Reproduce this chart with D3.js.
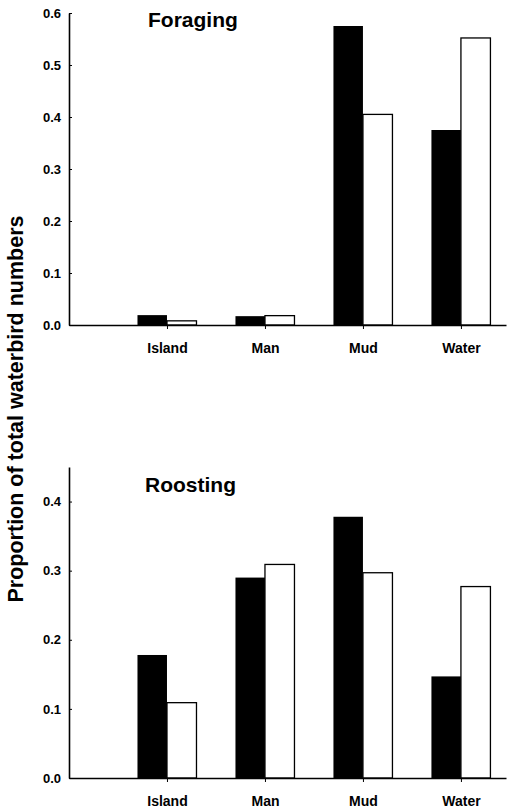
<!DOCTYPE html>
<html>
<head>
<meta charset="utf-8">
<script src="https://cdn.jsdelivr.net/npm/d3@7"></script>
<style>
  html, body { margin: 0; padding: 0; background: #fff; }
  svg { display: block; }
  text { font-family: "Liberation Sans", Arial, sans-serif; font-weight: bold; fill: #000; }
</style>
</head>
<body>
<svg id="chart" width="508" height="809"></svg>
<script>
// ---- data ----
const categories = ["Island", "Man", "Mud", "Water"];
const foragingBlack = [0.019, 0.017, 0.575, 0.375];
const foragingWhite = [0.008, 0.018, 0.405, 0.552];
const roostingBlack = [0.178, 0.29, 0.378, 0.147];
const roostingWhite = [0.109, 0.309, 0.297, 0.277];
const foragingTicks = [0, 0.1, 0.2, 0.3, 0.4, 0.5, 0.6];
const roostingTicks = [0, 0.1, 0.2, 0.3, 0.4];
const yLabel = "Proportion of total waterbird numbers";

const svg = d3.select("#chart");

// x scale: category k (1..4) centered on tick; slot 0 is empty at the axis
const x = d3.scaleLinear().domain([0, 4.46]).range([69, 506]);
const barW = 29.5;

function panel(opts) {
  const y = d3.scaleLinear().domain(opts.domain).range([opts.bottom, opts.top]);
  const g = svg.append("g");

  // bars
  categories.forEach((c, i) => {
    const cx = x(i + 1);
    g.append("rect")
      .attr("x", cx - barW).attr("width", barW)
      .attr("y", y(opts.black[i])).attr("height", y(0) - y(opts.black[i]))
      .attr("fill", "#000");
    g.append("rect")
      .attr("x", cx).attr("width", barW)
      .attr("y", y(opts.white[i])).attr("height", y(0) - y(opts.white[i]))
      .attr("fill", "#fff").attr("stroke", "#000").attr("stroke-width", 1.3);
  });

  // y axis
  const ya = g.append("g").attr("transform", `translate(${x(0)},0)`)
    .call(d3.axisLeft(y).tickValues(opts.ticks).tickFormat(d3.format(".1f"))
      .tickSizeInner(-3).tickSizeOuter(0).tickPadding(8));
  ya.select(".domain").attr("stroke-width", 1.6);
  ya.selectAll("line").attr("stroke-width", 1);
  ya.selectAll("text").attr("font-size", 13).attr("font-family", null).attr("font-weight", "bold");

  // x axis
  const xa = g.append("g").attr("transform", `translate(0,${y(0)})`)
    .call(d3.axisBottom(x).tickValues([1, 2, 3, 4]).tickFormat(d => categories[d - 1])
      .tickSizeInner(4).tickSizeOuter(0).tickPadding(14));
  xa.select(".domain").attr("stroke-width", 1.6);
  xa.selectAll("line").attr("stroke-width", 1);
  xa.selectAll("text").attr("font-size", 14).attr("font-family", null).attr("font-weight", "bold");

  // title
  g.append("text").attr("x", opts.titleX).attr("y", opts.titleY)
    .attr("font-size", 21).text(opts.title);
}

panel({ domain: [0, 0.6], top: 13, bottom: 325, black: foragingBlack, white: foragingWhite,
        ticks: foragingTicks, title: "Foraging", titleX: 148, titleY: 27 });
panel({ domain: [0, 0.45], top: 467, bottom: 778, black: roostingBlack, white: roostingWhite,
        ticks: roostingTicks, title: "Roosting", titleX: 145, titleY: 492 });

svg.append("text")
  .attr("transform", "translate(23,409) rotate(-90)")
  .attr("text-anchor", "middle")
  .attr("font-size", 21.5)
  .text(yLabel);
</script>
</body>
</html>
